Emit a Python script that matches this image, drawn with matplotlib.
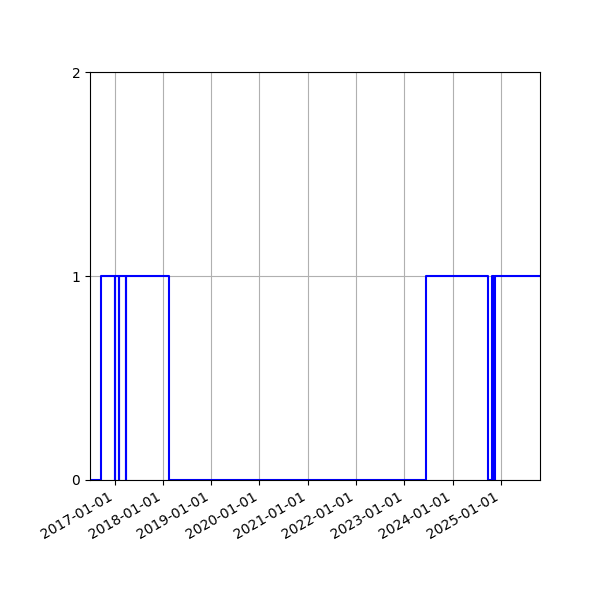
import matplotlib
matplotlib.use("Agg")
import matplotlib.pyplot as plt
import matplotlib.dates as mdates
import pandas as pd

# change points of the 0/1 status series (step, post)
dates = ["2016-06-28", "2016-09-20",
         "2017-01-02", "2017-01-04",
         "2017-02-02", "2017-02-04",
         "2017-03-29", "2017-03-31",
         "2018-02-12", "2023-06-10",
         "2024-09-24", "2024-10-24",
         "2024-11-11", "2024-11-13",
         "2025-10-23"]
values = [0, 1, 0, 1, 0, 1, 0, 1, 0, 1, 0, 1, 0, 1, 1]

x = pd.to_datetime(dates)

fig = plt.figure(figsize=(6, 6), dpi=100)
ax = fig.add_subplot(111)

ax.plot(x, values, color="blue", drawstyle="steps-post", linewidth=1.5)

ax.set_xlim(x[0], x[-1])
ax.set_ylim(0, 2)
ax.set_yticks([0, 1, 2])
ax.xaxis.set_major_locator(mdates.YearLocator())
ax.xaxis.set_major_formatter(mdates.DateFormatter("%Y-%m-%d"))
ax.grid(True)
fig.autofmt_xdate()
fig.subplots_adjust(left=0.15, right=0.9, top=0.88, bottom=0.2)

fig.savefig("out.png", dpi=100)
